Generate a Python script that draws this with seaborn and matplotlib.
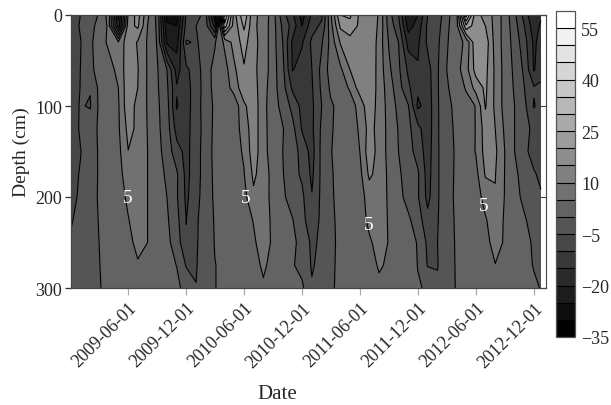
import numpy as np
import pandas as pd
import matplotlib
matplotlib.use("Agg")
import matplotlib.pyplot as plt
import matplotlib.dates as mdates
import seaborn as sns

sns.set_theme(style="ticks")
plt.rcParams["font.family"] = ["Liberation Serif", "DejaVu Serif"]

# soil temperature, one list per depth, monthly columns
dates = list(pd.date_range("2008-12-01", "2012-12-01", freq="MS")) + [pd.Timestamp("2012-12-23")]
depths = [0, 12, 30, 60, 80, 100, 125, 150, 175, 200, 225, 250, 275, 300]

temp_000 = [-9, -5, -3, 0.5, 7, -22, 11, 17, 6, -1.5,
            -27, -28, -9, -6, -4, -24, 36, 13, 24, 11,
            8.5, 2, -8, -14, -22, -14, -11, 4, 20, 21,
            14, 13.5, 9.5, -3, -10, -24, -20, -10, -8, -1.5,
            3, 38, 16, 14, 8, 3, -4, -12, -20, -16]
temp_012 = [-8, -4.5, -1, 1, 6, -18, 13, 16, 5, -1,
            -24, -25, -8, -5, -3, -17, 28, 12, 21, 11,
            8, 2, -6, -12, -20, -12, -9, 3, 16, 18,
            14, 14, 9, -2, -8, -22, -18, -9, -7, -1,
            3, 24, 17, 15, 8, 3, -3, -10, -18, -14]
temp_030 = [-8, -5.3, -1, 2.5, 6, 5.5, 13.5, 9.5, 4.5, -0.5,
            -21, -22, -4.5, -5.5, -3, -0.5, 6, 12, 17, 11.5,
            8, 2, -5, -16, -15.5, -9, -5.5, 1.5, 10.5, 13,
            14, 14.5, 8, -0.5, -5, -17, -16, -9, -6, -0.5,
            3, 6, 19, 18, 8, 3, -2, -8, -16, -13]
temp_060 = [-8, -5, -1, 1.5, 3, 6.5, 13, 10.3, 4.5, 0.3,
            -5, -17, -11, -7.5, -2, 1.5, 3, 9, 14.5, 11,
            8, 2, -3.5, -15.3, -13, -10, -3.5, 2, 4, 10,
            13, 14, 8, 1, -4, -11, -14.5, -12, -5.5, 0,
            3, 8, 17, 16.5, 9, 3, -1, -6, -15.5, -12]
temp_080 = [-8, -4.9, -4.7, 1, 2.8, 5, 13.5, 10, 4.5, 0.5,
            -4, -14.5, -11.5, -8, -2, 1.3, 2.5, 7, 13.5, 12,
            7, 2, -3, -11, -12.5, -10.5, -4, 0.8, 3, 5.5,
            12.5, 14, 8, 2.5, -3, -9, -14, -12.5, -5.5, -0.5,
            2, 5.5, 12, 16, 9, 3, -0.5, -5, -9.5, -9]
temp_100 = [-7.5, -4.6, -5.4, 0.8, 2.5, 4.5, 13.5, 8, 4.7, 0.8,
            -3, -15.5, -11.5, -8, -1.5, 0.5, 1.5, 1.8, 9, 13,
            6.5, 2, -1.5, -6.5, -11.5, -11, -5, -0.7, 1.5, 3,
            6.5, 14, 7.5, 3.5, -1.5, -4.7, -16, -13, -5.5, -1.5,
            1.5, 3, 5.2, 15.4, 9, 3, 0, -3.8, -10.4, -8]
temp_125 = [-7.5, -4.5, -2.3, 0.7, 2, 4.3, 11.5, 9, 4.8, 1,
            -2.5, -12, -11.5, -7.5, -2.5, 1, 2, 2.8, 7, 13,
            6.5, 2.5, 0.3, -3.5, -10.5, -11, -4, -0.5, 1.5, 3,
            5.5, 12, 8, 3.5, -0.3, -3.7, -8.5, -13, -5.5, -1.8,
            1, 2.5, 5.2, 12.5, 10, 4, 0, -3.7, -6, -7.5]
temp_150 = [-7, -5.2, -2.5, 0.5, 1.8, 3.6, 9.9, 7.5, 5, 1.5,
            -2, -8, -11.5, -7, -2.5, 1.3, 2.5, 3.5, 5.5, 13,
            6.5, 2.8, 0, -3, -6.5, -12, -3.5, -0.2, 1.5, 2.8,
            5, 13, 8, 3.5, 0, -3, -7, -12.5, -5.5, -2,
            0.7, 2, 5.3, 12, 11, 4.8, 0, -3.8, -7, -8]
temp_175 = [-6.5, -4.7, -2.2, 0.4, 1.8, 3.3, 7.5, 8.5, 5, 2,
            -0.8, -4.3, -11.5, -7, -2.5, 1, 2, 3, 4.8, 11,
            7.5, 3.2, 0.3, -3.3, -5.8, -11, -3.7, -0.5, 1.5, 2.6,
            3.5, 11, 8, 4, 0.8, -2.2, -4.3, -12, -5.5, -2,
            0.8, 2, 3.5, 10.5, 10.2, 4.7, 1, -2, -4.5, -6]
temp_200 = [-6, -4.5, -2, 0.5, 1.8, 3.2, 5.8, 7, 5, 2.5,
            0, -4.5, -11, -6.5, -2.5, 0.8, 1.5, 2.5, 3.5, 9,
            7, 3.5, 1, -2.5, -4, -9.7, -3.7, -0.7, 1.5, 2.5,
            3, 7, 7.5, 4.3, 1.5, -1.7, -4.5, -11.5, -5.5, -2,
            1, 2, 2.5, 7, 9.7, 4.6, 1.6, -1.2, -3.5, -4.5]
temp_225 = [-5.5, -3.5, -1.8, 0.2, 1.7, 3, 4.8, 7, 5, 2.5,
            0.7, -3.5, -10.1, -5.7, -2.5, 0.4, 1.2, 2.2, 3.2, 5.2,
            7.5, 3.8, 2, 0.2, -3.5, -8, -3.8, -1, 1.3, 2.2,
            3, 6, 7.5, 4.5, 2.2, 0.8, -2.5, -8.5, -5.3, -2,
            0.7, 1.8, 2.7, 4.5, 8, 4.3, 2.3, 0.5, -2, -3]
temp_250 = [-4.5, -2.5, -1.3, 0, 1.5, 2.8, 4.2, 5.8, 5, 3,
            1.2, -2.2, -9.6, -5.5, -2.5, 0.2, 1, 2, 3, 4.4,
            6.8, 4.3, 3, 1, -1.5, -6, -4, -1.2, 1.2, 2,
            3, 4.4, 6.5, 4.8, 3, 1.7, -0.3, -6, -5, -2,
            0.5, 1.5, 2.8, 4, 6.2, 4.6, 3, 1.5, -0.7, -1.5]
temp_275 = [-3, -2, -1.2, -0.1, 1, 2, 3, 4.7, 3.8, 2.5,
            1.5, -0.1, -5.4, -5.3, -2.3, -0.1, 0.8, 1.7, 2.7, 3.7,
            5.6, 3.8, 2.8, 0.4, -1.5, -5.5, -3.5, -0.8, 1, 1.8,
            2.8, 4, 5.3, 4.6, 3, 1.7, -0.1, -5.3, -5.2, -2,
            0.4, 1.5, 2.6, 3.5, 4.9, 3.8, 2.8, 1.6, -0.3, -1]
temp_300 = [-1.5, -1.5, -1, -0.2, 0.8, 1.5, 2.2, 3, 3, 2.5,
            2, 1, -1.5, -4.9, -2, -0.1, 0.8, 1.5, 2.5, 3.2,
            4.5, 3.2, 2.5, 1.2, 0.9, -4.5, -3, -0.5, 0.8, 1.5,
            2.5, 3.5, 4.4, 3.5, 2.8, 1.8, 0.3, -0.4, -4.3, -2,
            0.3, 1.5, 2.5, 3.2, 3.8, 3.2, 2.6, 1.8, 0.8, -0.2]

levels = list(range(-35, 65, 5))
tick_dates = ["2009-06-01", "2009-12-01", "2010-06-01", "2010-12-01",
              "2011-06-01", "2011-12-01", "2012-06-01", "2012-12-01"]
cbar_ticks = [-35, -20, -5, 10, 25, 40, 55]
label_dates = ["2009-05-29", "2010-06-07", "2011-06-28", "2012-06-25"]
label_depths = [201, 201, 230, 209]

temps = pd.DataFrame([temp_000, temp_012, temp_030, temp_060, temp_080, temp_100, temp_125,
                      temp_150, temp_175, temp_200, temp_225, temp_250, temp_275, temp_300],
                     index=depths, columns=dates)
x = mdates.date2num(temps.columns.to_pydatetime())
greys = sns.blend_palette(["black", "white"], len(levels) - 1)

fig = plt.figure(figsize=(6.11, 4.06), dpi=100)
ax = fig.add_axes([70.5 / 611, 1 - 289 / 406, (546 - 70.5) / 611, (289 - 16) / 406])
cax = fig.add_axes([556 / 611, 1 - 338 / 406, 19 / 611, (338 - 12) / 406])

cf = ax.contourf(x, temps.index, temps.values, levels=levels, colors=greys)
ax.contour(x, temps.index, temps.values, levels=levels, colors="black",
           linewidths=0.8, linestyles="solid")

ax.set_xlim(mdates.date2num(pd.Timestamp("2008-12-01")), mdates.date2num(pd.Timestamp("2013-01-08")))
ax.set_ylim(300, 0)
ax.set_yticks([0, 100, 200, 300])
ax.set_xticks(mdates.date2num(pd.to_datetime(tick_dates)))
ax.set_xticklabels(tick_dates, rotation=45, ha="right", rotation_mode="anchor", fontsize=13)
ax.tick_params(axis="y", labelsize=13, length=4, width=0.9, color="#333333", pad=2, left=True)
ax.tick_params(axis="x", length=5, width=0.9, color="#aaaaaa", pad=3, bottom=True)
ax.set_xlabel("Date", fontsize=15, labelpad=10, x=0.435)
ax.set_ylabel("Depth (cm)", fontsize=14, labelpad=4)
for spine in ax.spines.values():
    spine.set_color("#444444")
    spine.set_linewidth(0.9)
ax.spines["right"].set_visible(False)

right = ax.secondary_yaxis("right")
right.set_yticks([0, 100, 200, 300])
right.tick_params(direction="in", length=5, width=0.8, color="#444444", labelright=False)
right.spines["right"].set_color("#444444")
right.spines["right"].set_linewidth(0.8)

for d, dep in zip(label_dates, label_depths):
    ax.text(mdates.date2num(pd.Timestamp(d)), dep, "5", color="white", fontsize=14,
            ha="center", va="center")

cb = fig.colorbar(cf, cax=cax, ticks=cbar_ticks, drawedges=True)
cb.dividers.set_color("black")
cb.dividers.set_linewidth(0.8)
cb.outline.set_edgecolor("#555555")
cb.outline.set_linewidth(0.9)
cb.ax.tick_params(length=0, labelsize=13, pad=4.5)
cb.ax.set_yticklabels([str(t).replace("-", "\u2212") for t in cbar_ticks])

fig.savefig("out.png", dpi=100)
